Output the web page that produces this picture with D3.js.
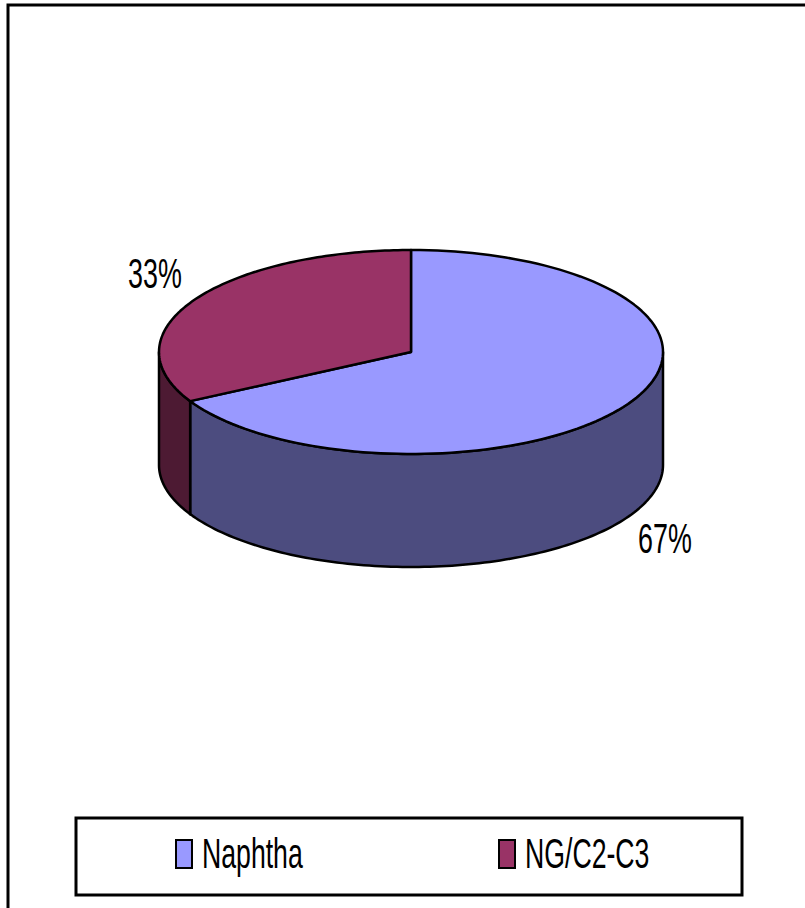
<!DOCTYPE html>
<html>
<head>
<meta charset="utf-8">
<script src="https://cdn.jsdelivr.net/npm/d3@7"></script>
<style>
  html, body { margin: 0; padding: 0; background: #fff; }
  svg { display: block; }
  text { font-family: "Liberation Sans", Arial, sans-serif; fill: #000; }
</style>
</head>
<body>
<svg id="chart" width="805" height="908"></svg>
<script>
// Feedstock shares
const categories = ["Naphtha", "NG/C2-C3"];
const values = [67, 33];
const labels = ["67%", "33%"];
const topColors = ["#9999FF", "#993366"];
const sideColors = ["#4C4C7F", "#4D1A33"];

const svg = d3.select("#chart");

// outer frame (right and bottom edges run past the page)
svg.append("rect")
  .attr("x", 8).attr("y", 5).attr("width", 810).attr("height", 920)
  .attr("fill", "#fff").attr("stroke", "#000").attr("stroke-width", 3);

// 3D pie geometry
const cx = 411, cy = 352, rx = 252, ry = 102, depth = 113;

const pie = d3.pie().sort(null).startAngle(0).endAngle(2 * Math.PI);
const arcs = pie(values);

// d3.pie angles are clockwise from 12 o'clock; convert to ellipse parameter
const toT = a => a - Math.PI / 2;
const px = t => cx + rx * Math.cos(t);
const py = (t, dy = 0) => cy + ry * Math.sin(t) + dy;

const g = svg.append("g");

function topPath(a0, a1) {
  const t0 = toT(a0), t1 = toT(a1);
  const p = d3.path();
  p.moveTo(cx, cy);
  p.lineTo(px(t0), py(t0));
  p.ellipse ? null : null;
  const n = 120;
  for (let i = 1; i <= n; i++) {
    const t = t0 + (t1 - t0) * i / n;
    p.lineTo(px(t), py(t));
  }
  p.closePath();
  return p.toString();
}

function sidePath(t0, t1) {
  const n = 120;
  const p = d3.path();
  p.moveTo(px(t0), py(t0));
  for (let i = 1; i <= n; i++) {
    const t = t0 + (t1 - t0) * i / n;
    p.lineTo(px(t), py(t));
  }
  for (let i = n; i >= 0; i--) {
    const t = t0 + (t1 - t0) * i / n;
    p.lineTo(px(t), py(t, depth));
  }
  p.closePath();
  return p.toString();
}

// front walls: visible only for ellipse parameter between 0 and PI
arcs.forEach((d, i) => {
  let t0 = toT(d.startAngle), t1 = toT(d.endAngle);
  // normalise to [-PI/2, 3PI/2)
  const s = Math.max(t0, 0), e = Math.min(t1, Math.PI);
  if (e > s) {
    g.append("path")
      .attr("d", sidePath(s, e))
      .attr("fill", sideColors[i])
      .attr("stroke", "#000").attr("stroke-width", 2.5)
      .attr("stroke-linejoin", "round");
  }
});

// top faces
arcs.forEach((d, i) => {
  g.append("path")
    .attr("d", topPath(d.startAngle, d.endAngle))
    .attr("fill", topColors[i])
    .attr("stroke", "#000").attr("stroke-width", 2.5)
    .attr("stroke-linejoin", "round");
});

// percentage labels, drawn condensed
const labelPos = [[665, 553], [155, 288]];
arcs.forEach((d, i) => {
  svg.append("text")
    .attr("transform", `translate(${labelPos[i][0]},${labelPos[i][1]}) scale(0.64,1)`)
    .attr("text-anchor", "middle")
    .attr("font-size", 42)
    .text(labels[i]);
});

// legend
const lg = svg.append("g");
lg.append("rect")
  .attr("x", 76).attr("y", 818).attr("width", 666).attr("height", 77)
  .attr("fill", "#fff").attr("stroke", "#000").attr("stroke-width", 3);

const legendX = [176, 499];
categories.forEach((c, i) => {
  lg.append("rect")
    .attr("x", legendX[i]).attr("y", 840).attr("width", 16).attr("height", 28)
    .attr("fill", topColors[i]).attr("stroke", "#000").attr("stroke-width", 2);
  lg.append("text")
    .attr("transform", `translate(${legendX[i] + 26},868) scale(0.62,1)`)
    .attr("font-size", 43)
    .text(c);
});
</script>
</body>
</html>
